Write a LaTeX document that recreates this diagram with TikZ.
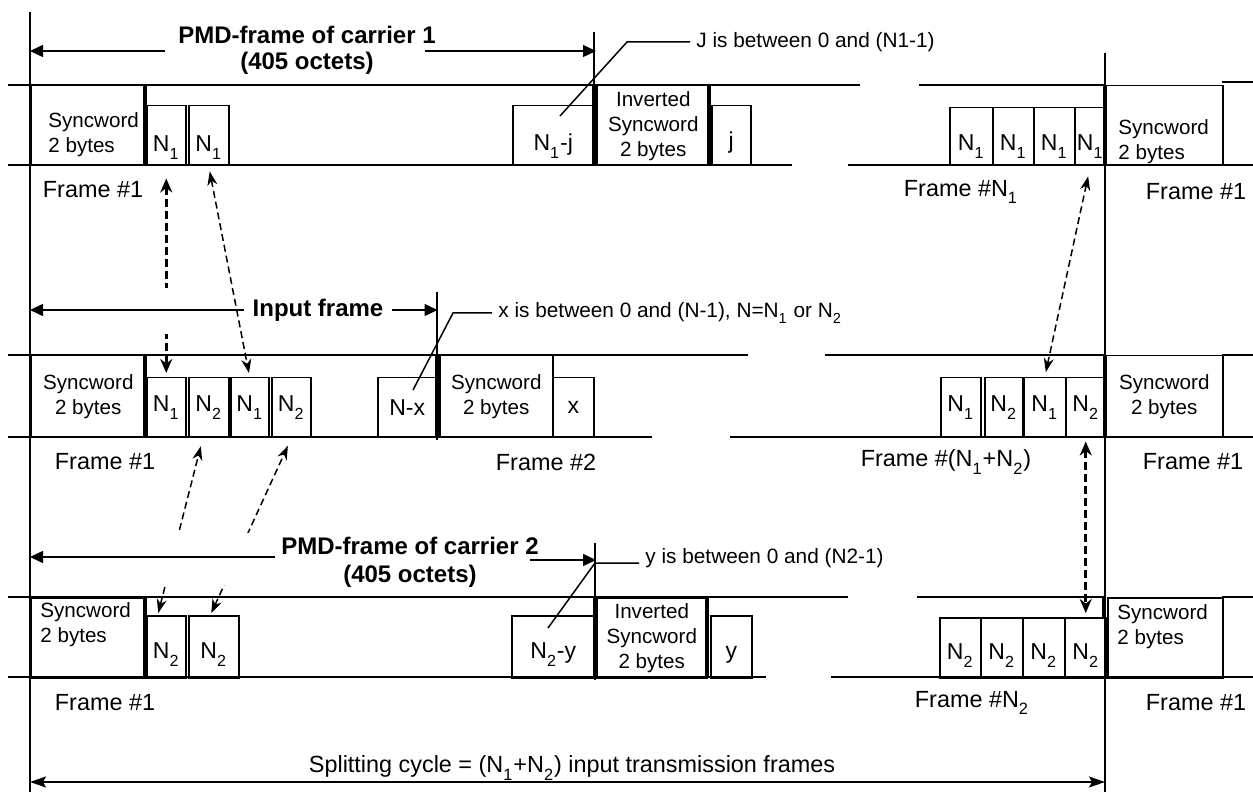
\documentclass[tikz,border=0pt]{standalone}
\usepackage{fontspec}
\setmainfont{Liberation Sans}
\usetikzlibrary{arrows.meta}
\newcommand{\lowsub}[1]{\textsubscript{\raisebox{-0.45ex}{#1}}}

\begin{document}
\begin{tikzpicture}[x=0.5pt, y=-0.5pt]
        \tikzset{
            cell/.style 2 args={draw, line width=0.75pt, minimum width=#1*0.5pt, minimum height=#2*0.5pt, inner sep=0pt, anchor=north west, font=\fontsize{11.5}{13}\selectfont},
            drop/.style={text height=#1, text depth=0pt},
            syncf/.style={align=center, font=\fontsize{10.3}{12.5}\selectfont},
            synctext/.style={anchor=west, align=left, inner sep=0pt, font=\fontsize{10.3}{12.5}\selectfont},
            rail/.style={line width=0.75pt},
            heavy/.style={line width=1.6pt},
            framelbl/.style={inner sep=0pt, font=\fontsize{11.7}{14}\selectfont},
            note/.style={anchor=west, inner xsep=3pt, font=\fontsize{10.4}{12}\selectfont},
            headline/.style={align=center, inner sep=0pt, font=\bfseries\fontsize{12}{13}\selectfont},
            dimarrow/.style={-{Triangle[length=6.5pt,width=6pt]}, line width=0.75pt},
            spanarrow/.style={{Stealth[length=8pt,width=5.5pt,inset=1.5pt]}-{Stealth[length=8pt,width=5.5pt,inset=1.5pt]}, line width=0.75pt},
            thindash/.style={{Stealth[length=7pt,width=5pt]}-{Stealth[length=7pt,width=5pt]}, line width=0.75pt, dash pattern=on 3.5pt off 2pt},
            thickdash/.style={{Stealth[length=7pt,width=6pt]}-{Stealth[length=7pt,width=6pt]}, line width=1.6pt, dash pattern=on 4pt off 2pt}
        }
        \useasboundingbox (0,0) rectangle (1253,796);

        \draw[rail] (8,85) -- (860,85) (919,85) -- (1105,85) (1222,82) -- (1253,82);
        \draw[rail] (8,165) -- (792,165) (848,165) -- (1253,165);
        \draw[rail] (8,355) -- (748,355) (825,355) -- (1105,355) (1222,355) -- (1253,355);
        \draw[rail] (8,437) -- (652,437) (730,437) -- (1253,437);
        \draw[rail] (8,597) -- (848,597) (917,597) -- (1103,597) -- (1103,617) (1222,597) -- (1253,597);
        \draw[rail] (8,677) -- (766,677) (831,677) -- (1253,677);

        \draw[rail] (30,12) -- (30,792);
        \draw[rail] (1105,53) -- (1105,792);
        \draw[rail] (594,32) -- (594,165);
        \draw[rail] (437,292) -- (437,440);
        \draw[rail] (595,543) -- (595,680);

        \node[cell={115}{80}] (r1sync) at (30,85) {};
        \node[cell={39}{60}, drop=16pt] (r1na) at (146,105) {N\lowsub{1}};
        \node[cell={40}{60}, drop=16pt] (r1nb) at (188,105) {N\lowsub{1}};
        \node[cell={81}{60}, drop=15pt] (r1nj) at (512,105) {N\lowsub{1}-j};
        \node[cell={113}{80}, syncf] (r1inv) at (596,85) {Inverted\\Syncword\\2 bytes};
        \node[cell={39}{60}, drop=13pt] (r1j) at (711,105) {j};
        \node[cell={43}{58}, drop=14pt] (r1ra) at (949,107) {N\lowsub{1}};
        \node[cell={41}{58}, drop=14pt] (r1rb) at (992,107) {N\lowsub{1}};
        \node[cell={41}{58}, drop=14pt] (r1rc) at (1033,107) {N\lowsub{1}};
        \node[cell={31}{58}, drop=14pt] (r1rd) at (1074,107) {N\lowsub{1}};
        \node[cell={117}{80}] (r1rsync) at (1105,85) {};

        \node[cell={115}{82}, syncf] (r2sync) at (30,355) {Syncword\\2 bytes};
        \node[cell={39}{60}] (r2na) at (146,377) {N\lowsub{1}};
        \node[cell={40}{60}] (r2nb) at (188,377) {N\lowsub{2}};
        \node[cell={38}{60}] (r2nc) at (230,377) {N\lowsub{1}};
        \node[cell={39}{60}] (r2nd) at (271,377) {N\lowsub{2}};
        \node[cell={59}{60}] (r2nx) at (377,377) {N-x};
        \node[cell={113}{82}, syncf] (r2sync2) at (439,355) {Syncword\\2 bytes};
        \node[cell={41}{60}] (r2x) at (552,377) {x};
        \node[cell={40}{60}] (r2ra) at (940,377) {N\lowsub{1}};
        \node[cell={38}{60}] (r2rb) at (984,377) {N\lowsub{2}};
        \node[cell={42}{60}] (r2rc) at (1023,377) {N\lowsub{1}};
        \node[cell={40}{60}] (r2rd) at (1065,377) {N\lowsub{2}};
        \node[cell={117}{82}, syncf] (r2rsync) at (1105,355) {Syncword\\2 bytes};

        \node[cell={115}{80}] (r3sync) at (30,597) {};
        \node[cell={39}{62}, drop=12pt] (r3na) at (146,615) {N\lowsub{2}};
        \node[cell={50}{62}, drop=12pt] (r3nb) at (188,615) {N\lowsub{2}};
        \node[cell={83}{62}, drop=12pt] (r3ny) at (511,615) {N\lowsub{2}-y};
        \node[cell={110}{80}, syncf] (r3inv) at (596,597) {Inverted\\Syncword\\2 bytes};
        \node[cell={41}{62}, drop=12pt] (r3y) at (710,615) {y};
        \node[cell={41}{60}, drop=12pt] (r3ra) at (939,617) {N\lowsub{2}};
        \node[cell={42}{60}, drop=12pt] (r3rb) at (980,617) {N\lowsub{2}};
        \node[cell={42}{60}, drop=12pt] (r3rc) at (1022,617) {N\lowsub{2}};
        \node[cell={42}{60}, drop=12pt] (r3rd) at (1064,617) {N\lowsub{2}};
        \node[cell={115}{80}] (r3rsync) at (1107,597) {};

        \draw[heavy] (145,85) -- (145,165) (594,85) -- (594,165) (709,85) -- (709,165) (1105,85) -- (1105,165);
        \draw[heavy] (145,355) -- (145,437) (437,355) -- (437,437) (1105,355) -- (1105,437);
        \draw[heavy] (145,597) -- (145,677) (595,597) -- (595,677) (707,597) -- (707,677) (1106,617) -- (1106,677);

        \node[synctext] (s1) at (48,135) {Syncword\\2 bytes};
        \node[synctext] (s2) at (1118,142) {Syncword\\2 bytes};
        \node[synctext] (s3) at (40,625) {Syncword\\2 bytes};
        \node[synctext] (s4) at (1117,627) {Syncword\\2 bytes};

        \node[framelbl] (f11) at (93,190) {Frame \#1};
        \node[framelbl] (f12) at (961,192) {Frame \#N\lowsub{1}};
        \node[framelbl] (f13) at (1196,192) {Frame \#1};
        \node[framelbl] (f21) at (105,462) {Frame \#1};
        \node[framelbl] (f22) at (546,462) {Frame \#2};
        \node[framelbl] (f23) at (946,462) {Frame \#(N\lowsub{1}+N\lowsub{2})};
        \node[framelbl] (f24) at (1193,462) {Frame \#1};
        \node[framelbl] (f31) at (105,703) {Frame \#1};
        \node[framelbl] (f32) at (972,703) {Frame \#N\lowsub{2}};
        \node[framelbl] (f33) at (1196,703) {Frame \#1};

        \node[note] (nj) at (690,42) {J is between 0 and (N1-1)};
        \coordinate (lj) at (560,116);
        \draw[rail] (nj.west) -- ++(-63,0) -- (lj);
        \node[note] (nx) at (492,313) {x is between 0 and (N-1), N=N\lowsub{1} or N\lowsub{2}};
        \coordinate (lx) at (413,390);
        \draw[rail] (nx.west) -- ++(-39,0) -- (lx);
        \node[note, anchor=base west] (ny) at (639,563) {y is between 0 and (N2-1)};
        \coordinate (ly) at (548,628);
        \draw[rail] (ny.base west) -- ++(-44,0) -- (ly);

        \draw[thickdash, shorten <=6pt, shorten >=2pt] (r1na.south) -- (r2na.north);
        \draw[thindash, shorten <=2.5pt, shorten >=2pt] (r1nb.south) -- (r2nc.north);
        \draw[thindash, shorten <=1pt, shorten >=4pt] (r3na.105) -- (r2nb.259);
        \draw[thindash, shorten <=1pt, shorten >=4pt] (r3nb.96) -- (r2nd.south);
        \draw[thindash, shorten <=5pt, shorten >=2.5pt] (r1rd.south) -- (r2rc.north);
        \draw[thickdash, shorten <=1.5pt, shorten >=2pt] (r2rd.south) -- (r3rd.north);

        \fill[white] (158,288) rectangle (174,334);
        \fill[white] (150,533) rectangle (256,585);

        \node[headline] (t1) at (307,50) {PMD-frame of carrier 1\\(405 octets)};
        \coordinate (t1l) at (165,51);
        \coordinate (t1r) at (425,51);
        \draw[dimarrow] (t1l) -- (t1l -| r1sync.west);
        \draw[dimarrow] (t1r) -- (t1r -| r1inv.west);

        \node[headline, inner xsep=4pt] (t2) at (318,310) {Input frame};
        \draw[dimarrow] (t2.west) -- (t2.west -| r2sync.west);
        \draw[dimarrow] (t2.east) -- (t2.east -| r2nx.east);

        \node[headline, font=\bfseries\fontsize{12}{14}\selectfont] (t3) at (410,562) {PMD-frame of carrier 2\\(405 octets)};
        \coordinate (t3l) at (275,557);
        \coordinate (t3r) at (530,560);
        \draw[dimarrow] (t3l) -- (t3l -| r3sync.west);
        \draw[dimarrow] (t3r) -- (t3r -| r3inv.west);

        \node[framelbl] (split) at (572,768) {Splitting cycle = (N\lowsub{1}+N\lowsub{2}) input transmission frames};
        \coordinate (cyc0) at (30,782);
        \coordinate (cyc1) at (1105,782);
        \draw[spanarrow] (cyc0) -- (cyc1);
    \end{tikzpicture}
\end{document}
